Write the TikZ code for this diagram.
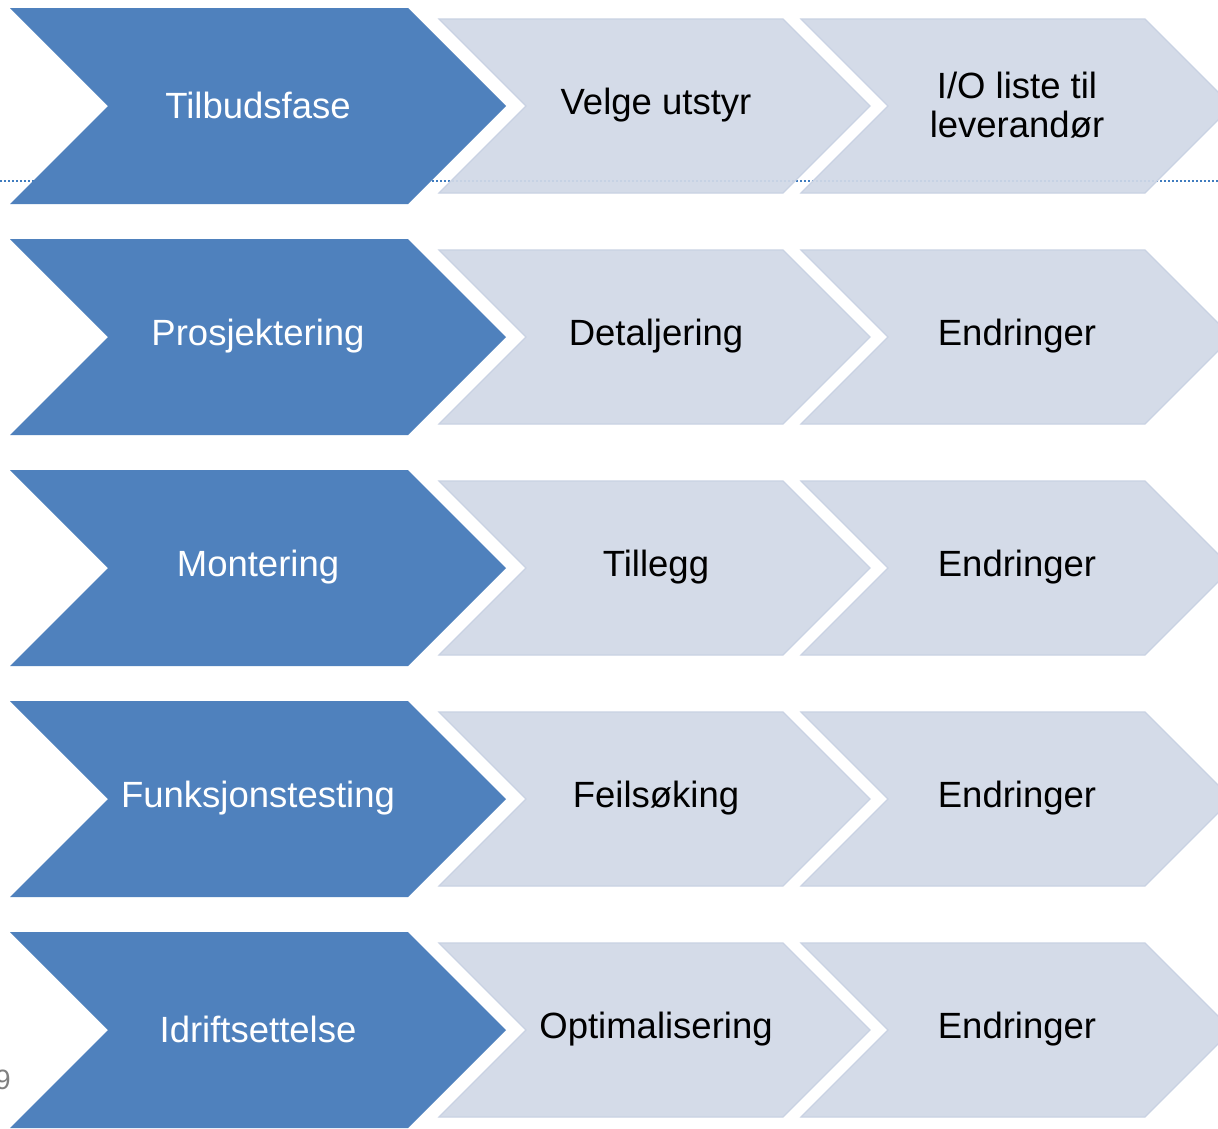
\documentclass[tikz,border=0pt]{standalone}
\usepackage{fontspec}
\setmainfont{Liberation Sans}
\definecolor{darkblue}{HTML}{4F81BD}
\definecolor{lightblue}{HTML}{D1D9E7}
\definecolor{lightedge}{HTML}{C9D2E3}
\definecolor{dotblue}{HTML}{3F7CBF}
\newcommand\chevron[5]{% left x, top y, right x, height, style
  \path[#5] (#1,#2) -- (#3,#2) -- ({#3+#4/2},{#2+#4/2}) -- (#3,{#2+#4}) -- (#1,{#2+#4}) -- ({#1+#4/2},{#2+#4/2}) -- cycle;}
\begin{document}
\begin{tikzpicture}[x=1pt,y=-1pt,
  darkchev/.style={fill=darkblue},
  lightchev/.style={fill=lightblue,fill opacity=0.93,draw=lightedge,line width=1.2pt},
  wlabel/.style={text=white,font=\fontsize{36.5}{40}\selectfont,align=center},
  blabel/.style={text=black,font=\fontsize{36.5}{39}\selectfont,align=center}]
\useasboundingbox (0,0) rectangle (1218,1128);
\clip (0,0) rectangle (1218,1128);
\fill[white] (0,0) rectangle (1218,1128);
% dotted guide line
\draw[dotblue,line width=2pt,dotted] (0,181) -- (1218,181);
% chevrons
\foreach \i in {0,...,4}{
  \pgfmathsetmacro\yd{8+231*\i}
  \pgfmathsetmacro\yl{19+231*\i}
  \chevron{10}{\yd}{408}{196}{darkchev}
  \chevron{439}{\yl}{783}{174}{lightchev}
  \chevron{801}{\yl}{1145}{174}{lightchev}
}
% labels
\node[wlabel] (a1) at (258,105) {Tilbudsfase};
\node[blabel] (b1) at (656,105) {Velge utstyr};
\node[blabel] (c1) at (1017,105) {I/O liste til\\leverandør};
\node[wlabel] (a2) at (258,336) {Prosjektering};
\node[blabel] (b2) at (656,336) {Detaljering};
\node[blabel] (c2) at (1017,336) {Endringer};
\node[wlabel] (a3) at (258,567) {Montering};
\node[blabel] (b3) at (656,567) {Tillegg};
\node[blabel] (c3) at (1017,567) {Endringer};
\node[wlabel] (a4) at (258,798) {Funksjonstesting};
\node[blabel] (b4) at (656,798) {Feilsøking};
\node[blabel] (c4) at (1017,798) {Endringer};
\node[wlabel] (a5) at (258,1029) {Idriftsettelse};
\node[blabel] (b5) at (656,1029) {Optimalisering};
\node[blabel] (c5) at (1017,1029) {Endringer};
\node[text=gray,font=\fontsize{28}{30}\selectfont] (pg) at (3,1080) {9};
\end{tikzpicture}
\end{document}
